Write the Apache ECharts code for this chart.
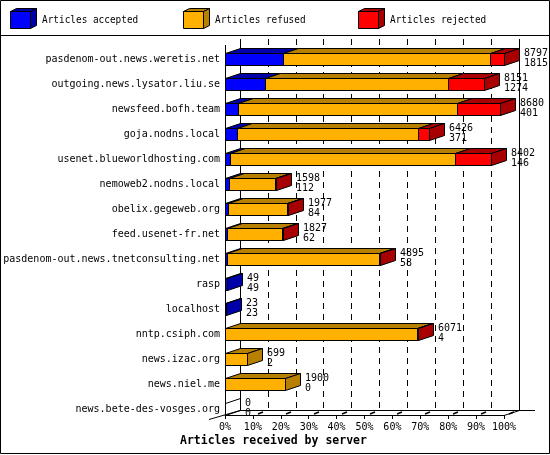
<!DOCTYPE html>
<html><head><meta charset="utf-8">
<script src="https://cdn.jsdelivr.net/npm/echarts@6/dist/echarts.min.js"></script>
<style>html,body{margin:0;padding:0;background:#fff}#c{width:550px;height:455px}</style>
</head><body><div id="c"></div>
<script>
// ---- data ----
const categories = ['pasdenom-out.news.weretis.net','outgoing.news.lysator.liu.se','newsfeed.bofh.team','goja.nodns.local','usenet.blueworldhosting.com','nemoweb2.nodns.local','obelix.gegeweb.org','feed.usenet-fr.net','pasdenom-out.news.tnetconsulting.net','rasp','localhost','nntp.csiph.com','news.izac.org','news.niel.me','news.bete-des-vosges.org'];
const received = [8797,8151,8680,6426,8402,1598,1977,1827,4895,49,23,6071,699,1900,0];
const accepted = [1815,1274,401,371,146,112,84,62,58,49,23,4,2,0,0];
const refused  = [6552,5757,6909,5715,7106,1456,1863,1750,4797,0,0,6057,697,1900,0];
const rejected = [430,1120,1370,340,1150,30,30,15,40,0,0,10,0,0,0];
const seriesNames = ['Articles accepted','Articles refused','Articles rejected'];
const tickLabels = ['0%','10%','20%','30%','40%','50%','60%','70%','80%','90%','100%'];
const xAxisTitle = 'Articles received by server';

// ---- styles ----
const FRONT = ['#0000ff','#ffb000','#ff0000'];
const DARK  = ['#0000a8','#b88000','#a80000'];
const DX = 15, DY = -5, BAR_H = 12;
const FONT = '"DejaVu Sans Mono", monospace';

const maxTotal = Math.max(...received);
const pct = v => v / maxTotal * 100;
const segs = [accepted, refused, rejected];

function segData(k) {
  return categories.map((c, i) => {
    let start = 0;
    for (let j = 0; j < k; j++) start += segs[j][i];
    const end = start + segs[k][i];
    let last = -1;
    for (let j = 0; j < 3; j++) if (segs[j][i] > 0) last = j;
    return [pct(start), pct(end), i, last === k ? 1 : 0, segs[k][i]];
  });
}

function renderSeg(k) {
  return function (params, api) {
    const raw = api.value(4);
    if (raw <= 0) return null;
    const idx = api.value(2), isLast = api.value(3);
    const p0 = api.coord([api.value(0), idx]);
    const p1 = api.coord([api.value(1), idx]);
    const x0 = Math.round(p0[0]) + 0.5, x1 = Math.round(p1[0]) + 0.5;
    const y0 = Math.floor(p0[1] + 1) + 0.5, y1 = y0 + BAR_H;
    const st = (fill) => ({ fill: fill, stroke: '#000', lineWidth: 1 });
    const ch = [];
    if (x1 > x0) {
      ch.push({ type: 'polygon', shape: { points: [[x0, y0], [x1, y0], [x1, y1], [x0, y1]] }, style: st(FRONT[k]) });
      ch.push({ type: 'polygon', shape: { points: [[x0, y0], [x0 + DX, y0 + DY], [x1 + DX, y0 + DY], [x1, y0]] }, style: st(DARK[k]) });
    }
    if (isLast) {
      ch.push({ type: 'polygon', shape: { points: [[x1, y0], [x1 + DX, y0 + DY], [x1 + DX, y1 + DY], [x1, y1]] }, style: st(DARK[k]) });
    }
    return { type: 'group', children: ch };
  };
}

function renderLabels(params, api) {
  const i = api.value(0);
  const tot = api.value(1), acc = api.value(2);
  const p = api.coord([pct(tot), i]);
  const xe = Math.round(p[0]) + 0.5;
  const y0 = Math.floor(p[1] + 1) + 0.5, y1 = y0 + BAR_H;
  const ch = [];
  if (tot <= 0) {
    ch.push({ type: 'polygon', shape: { points: [[xe, y0], [xe + DX, y0 + DY], [xe + DX, y1 + DY], [xe, y1]] }, style: { fill: 'none', stroke: '#000', lineWidth: 1 } });
  }
  const tx = Math.round(p[0]) + 20;
  ch.push({ type: 'text', style: { text: String(tot), x: tx, y: p[1] + 0.5, fill: '#000', font: '10px ' + FONT, textAlign: 'left', textVerticalAlign: 'middle' } });
  ch.push({ type: 'text', style: { text: String(acc), x: tx, y: p[1] + 11, fill: '#000', font: '10px ' + FONT, textAlign: 'left', textVerticalAlign: 'middle' } });
  return { type: 'group', children: ch };
}

const chart = echarts.init(document.getElementById('c'), null, { renderer: 'canvas' });

const series = seriesNames.map((name, k) => ({
  type: 'custom', name: name, xAxisIndex: 0, yAxisIndex: 0, z: 5,
  renderItem: renderSeg(k), data: segData(k), encode: { x: [0, 1], y: 2 }
}));
series.push({
  type: 'custom', name: 'labels', xAxisIndex: 0, yAxisIndex: 0, z: 6,
  renderItem: renderLabels,
  data: categories.map((c, i) => [i, received[i], accepted[i]]),
  encode: { x: -1, y: 0 }
});

const option = {
  backgroundColor: '#fff',
  animation: false,
  title: { text: xAxisTitle, left: 180, top: 435, padding: 0,
    textStyle: { fontFamily: FONT, fontSize: 11.5, fontWeight: 'bold', color: '#000' } },
  grid: [
    { left: 225, right: 46, top: 40, bottom: 40 },
    { left: 240, right: 31, top: 39, bottom: 45 }
  ],
  xAxis: [
    { gridIndex: 0, type: 'value', min: 0, max: 100, interval: 10,
      axisLine: { show: true, lineStyle: { color: '#000', width: 1 } },
      axisTick: { show: true, length: 4, lineStyle: { color: '#000' } },
      axisLabel: { formatter: v => tickLabels[Math.round(v / 10)], color: '#000', fontFamily: FONT, fontSize: 10, margin: 7 },
      splitLine: { show: false } },
    { gridIndex: 1, type: 'value', min: 0, max: 100, interval: 10,
      axisLine: { show: true, lineStyle: { color: '#000', width: 1 } },
      axisTick: { show: false }, axisLabel: { show: false },
      splitLine: { show: true, lineStyle: { color: '#000', width: 1, type: [6, 5] } } }
  ],
  yAxis: [
    { gridIndex: 0, type: 'category', data: categories, inverse: true,
      axisLine: { show: false }, axisTick: { show: false }, splitLine: { show: false },
      axisLabel: { color: '#000', fontFamily: FONT, fontSize: 10, margin: 5, verticalAlign: 'top', lineHeight: 12, padding: [1, 0, 0, 0], interval: 0 } },
    { gridIndex: 1, type: 'category', data: categories, inverse: true, show: false }
  ],
  series: series
};
chart.setOption(option);

// ---- decorations: frame, walls, legend ----
const g = [];
const line = (x1, y1, x2, y2, w) => ({ type: 'line', z: 4, shape: { x1, y1, x2, y2 }, style: { stroke: '#000', lineWidth: w || 1 } });
g.push({ type: 'rect', z: 0, shape: { x: 0.5, y: 0.5, width: 549, height: 453 }, style: { fill: 'none', stroke: '#000', lineWidth: 1 } });
g.push(line(0, 35.5, 550, 35.5));
const xf0 = chart.convertToPixel({ xAxisIndex: 0 }, 0), xf1 = chart.convertToPixel({ xAxisIndex: 0 }, 100);
const xb0 = chart.convertToPixel({ xAxisIndex: 1 }, 0), xb1 = chart.convertToPixel({ xAxisIndex: 1 }, 100);
g.push(line(Math.round(xf0) + 0.5, 45, Math.round(xf0) + 0.5, 415));
g.push(line(Math.round(xb0) + 0.5, 39, Math.round(xb0) + 0.5, 410.5));
g.push(line(Math.round(xb1) + 0.5, 39, Math.round(xb1) + 0.5, 410.5));
g.push(line(209, 419.5, 240, 410.5));
g.push(line(xf1, 415.5, xb1 + 0.5, 410.5));
g.push(line(xb1, 410.5, 535, 410.5));
for (let i = 1; i <= 10; i++) {
  const xf = Math.round(chart.convertToPixel({ xAxisIndex: 0 }, i * 10));
  g.push(line(xf + 5, 414, xf + 10, 412, 1.5));
}
// legend
const lx = [10, 183, 358];
seriesNames.forEach((name, k) => {
  const x0 = lx[k] + 0.5, x1 = x0 + 20, y0 = 11.5, y1 = 28.5;
  const st = (f) => ({ fill: f, stroke: '#000', lineWidth: 1 });
  g.push({ type: 'polygon', z: 4, shape: { points: [[x0, y0], [x1, y0], [x1, y1], [x0, y1]] }, style: st(FRONT[k]) });
  g.push({ type: 'polygon', z: 4, shape: { points: [[x0, y0], [x0 + 6, y0 - 3], [x1 + 6, y0 - 3], [x1, y0]] }, style: st(DARK[k]) });
  g.push({ type: 'polygon', z: 4, shape: { points: [[x1, y0], [x1 + 6, y0 - 3], [x1 + 6, y1 - 3], [x1, y1]] }, style: st(DARK[k]) });
  g.push({ type: 'text', z: 4, x: lx[k] + 32, y: 20.5, scaleX: 0.855,
    style: { text: name, x: 0, y: 0, fill: '#000', font: '11px ' + FONT, textAlign: 'left', textVerticalAlign: 'middle' } });
});
chart.setOption({ graphic: g });
</script>
</body></html>
